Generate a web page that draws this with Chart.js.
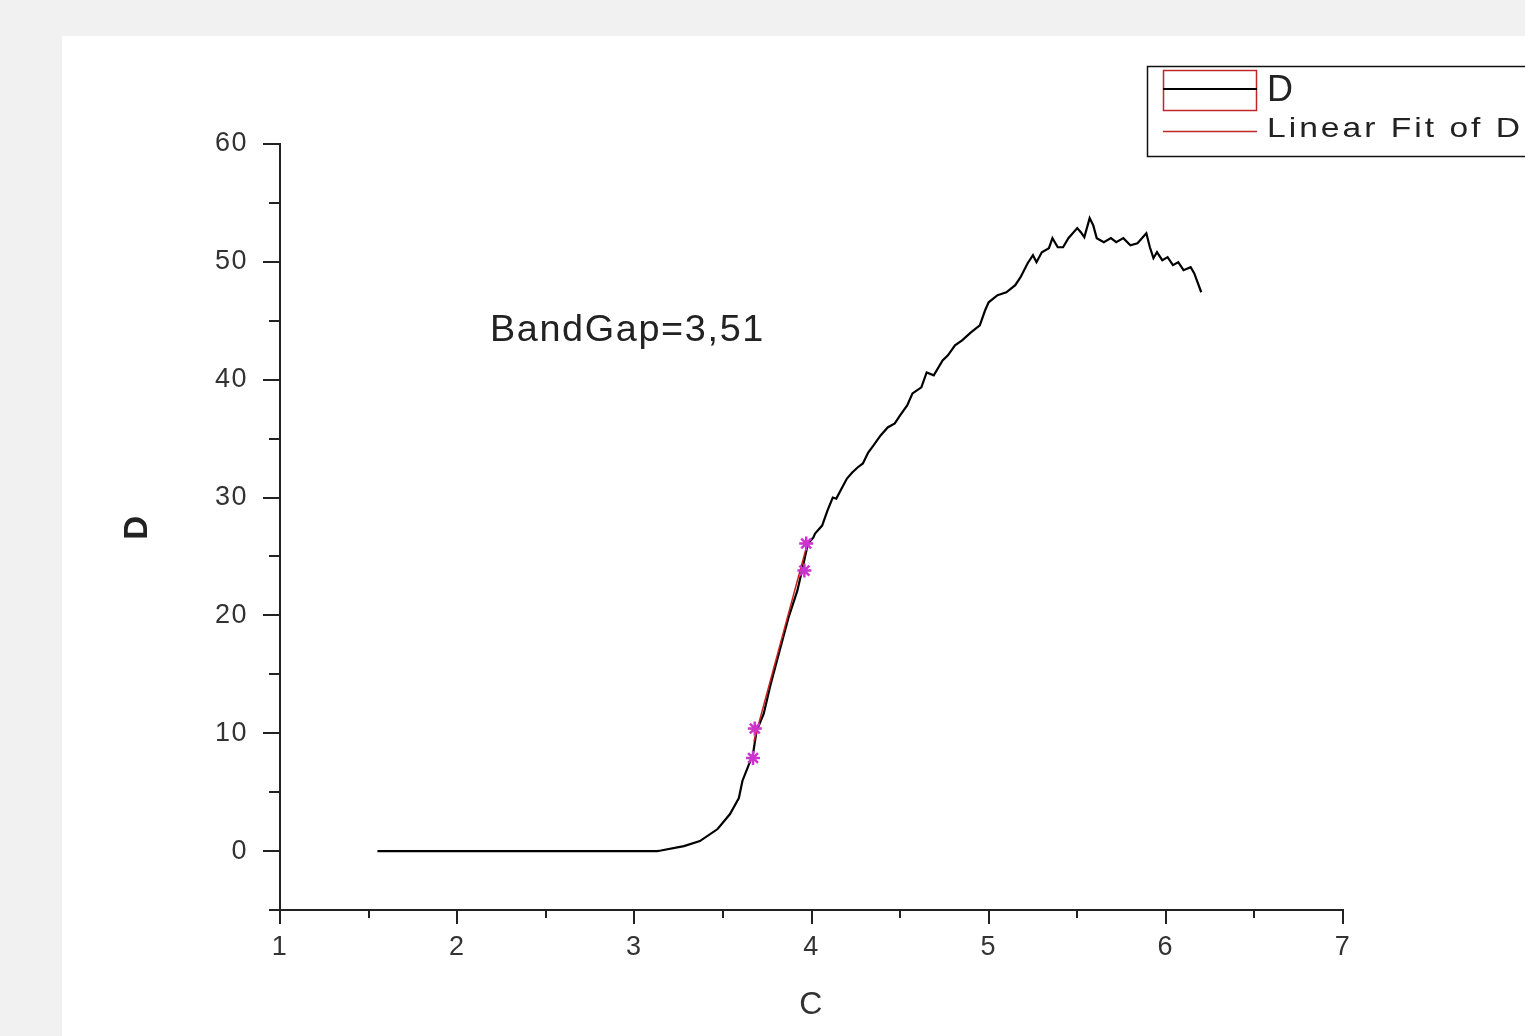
<!DOCTYPE html>
<html>
<head>
<meta charset="utf-8">
<style>
  body { margin: 0; background: #f1f1f1; width: 1525px; height: 1036px; overflow: hidden; }
  #panel { position: absolute; left: 62px; top: 36px; width: 1463px; height: 1000px; background: #fff; }
</style>
</head>
<body>
<div id="panel"><canvas id="chart" width="1463" height="1000"></canvas></div>

<script src="https://cdn.jsdelivr.net/npm/chart.js"></script>
<script>
    // measured curve D vs C
    const curveX = [1.55, 3.13, 3.15, 3.28, 3.37, 3.47, 3.54, 3.59, 3.61, 3.67,
        3.69, 3.73, 3.77, 3.82, 3.87, 3.92, 3.95, 3.98, 4.01, 4.02,
        4.06, 4.09, 4.12, 4.14, 4.17, 4.20, 4.23, 4.26, 4.29, 4.32,
        4.35, 4.39, 4.43, 4.47, 4.50, 4.54, 4.57, 4.62, 4.65, 4.69,
        4.74, 4.77, 4.81, 4.85, 4.90, 4.95, 4.98, 5.00, 5.05, 5.10,
        5.15, 5.18, 5.22, 5.25, 5.27, 5.30, 5.34, 5.36, 5.39, 5.42,
        5.45, 5.50, 5.52, 5.54, 5.57, 5.59, 5.61, 5.65, 5.69, 5.72,
        5.76, 5.80, 5.84, 5.89, 5.91, 5.93, 5.95, 5.98, 6.01, 6.04,
        6.07, 6.10, 6.14, 6.16, 6.20]
    const curveY = [0, 0, 0.05, 0.42, 0.85, 1.87, 3.14, 4.5, 5.95, 8.24,
        10.2, 11.64, 14.19, 17.0, 19.8, 22.1, 24.05, 26.09, 26.6, 26.94,
        27.62, 28.89, 30.0, 29.91, 30.76, 31.61, 32.12, 32.55, 32.89, 33.82,
        34.42, 35.27, 35.95, 36.29, 36.97, 37.82, 38.84, 39.35, 40.62, 40.37,
        41.64, 42.07, 42.92, 43.34, 44.02, 44.62, 45.89, 46.57, 47.17, 47.42,
        48.02, 48.7, 49.88, 50.56, 49.97, 50.82, 51.16, 52.01, 51.24, 51.24,
        52.01, 52.86, 52.52, 52.09, 53.71, 53.11, 52.01, 51.67, 52.01, 51.67,
        52.01, 51.41, 51.58, 52.43, 51.24, 50.31, 50.82, 50.14, 50.40, 49.72,
        49.97, 49.29, 49.55, 49.04, 47.42]

    // linear fit segment and the data reader marks
    const fitX = [3.675, 3.975]
    const fitY = [9.3, 26.0]
    const markX = [3.67, 3.68, 3.96, 3.97]
    const markY = [7.9, 10.4, 23.8, 26.1]

    const xMin = 1, xMax = 7
    const yMin = -5, yMax = 60

    const noteText = 'BandGap=3,51'
    const noteX = 2.185
    const noteY = 43.3

    const FONT = "'Liberation Sans', Arial, sans-serif"

    const toPoints = (xs, ys) => xs.map((v, i) => ({x: v, y: ys[i]}))

    // draw text stretched a bit sideways, then spaced out to width w
    function wideText(ctx, text, x, y, w, sx){
        ctx.save()
        ctx.translate(x, y)
        ctx.scale(sx, 1)
        ctx.letterSpacing = '0px'
        const m = ctx.measureText(text).width
        const ls = Math.max(0, (w / sx - m) / text.length)
        ctx.letterSpacing = ls + 'px'
        ctx.fillText(text, 0, 0)
        ctx.restore()
    }

    const textSpacing = {
        id: 'textSpacing',
        beforeDraw(chart){ chart.ctx.letterSpacing = '1.5px' },
        afterDraw(chart){ chart.ctx.letterSpacing = '0px' }
    }

    // Origin style ticks: long at labelled values, short in between
    const tickMarks = {
        id: 'tickMarks',
        afterDraw(chart){
            const {ctx, chartArea: a, scales: {x, y}} = chart
            ctx.save()
            ctx.strokeStyle = '#222'
            ctx.lineWidth = 2
            ctx.beginPath()
            x.ticks.forEach(t => {
                const px = Math.round(x.getPixelForValue(t.value))
                const len = Number.isInteger(t.value) ? 14 : 8
                ctx.moveTo(px, a.bottom)
                ctx.lineTo(px, a.bottom + len)
            })
            y.ticks.forEach(t => {
                const py = Math.round(y.getPixelForValue(t.value))
                const len = t.value % 10 === 0 ? 17 : 11
                ctx.moveTo(a.left - len, py)
                ctx.lineTo(a.left, py)
            })
            ctx.stroke()

            // annotation
            ctx.fillStyle = '#222'
            ctx.font = '36px ' + FONT
            ctx.textBaseline = 'alphabetic'
            ctx.textAlign = 'left'
            wideText(ctx, noteText, x.getPixelForValue(noteX), y.getPixelForValue(noteY), 275, 1.05)
            ctx.restore()
        }
    }

    // legend box in the top right corner
    const originLegend = {
        id: 'originLegend',
        afterDraw(chart){
            const ctx = chart.ctx
            ctx.save()
            ctx.strokeStyle = '#111'
            ctx.lineWidth = 1.5
            ctx.strokeRect(1085.5, 30.5, 420, 90)

            ctx.strokeStyle = '#c02828'
            ctx.lineWidth = 1.5
            ctx.strokeRect(1101.5, 34.5, 93, 40)
            ctx.strokeStyle = '#000'
            ctx.lineWidth = 2
            ctx.beginPath()
            ctx.moveTo(1101, 53)
            ctx.lineTo(1195, 53)
            ctx.stroke()

            ctx.strokeStyle = '#c02828'
            ctx.lineWidth = 1.5
            ctx.beginPath()
            ctx.moveTo(1101, 95.5)
            ctx.lineTo(1195, 95.5)
            ctx.stroke()

            ctx.fillStyle = '#222'
            ctx.textBaseline = 'alphabetic'
            ctx.textAlign = 'left'
            ctx.font = '36px ' + FONT
            ctx.fillText('D', 1205, 65)
            ctx.font = '28px ' + FONT
            wideText(ctx, 'Linear Fit of D', 1205, 101, 256, 1.2)
            ctx.restore()
        }
    }

    const chart = new Chart(document.getElementById('chart'), {
        type: 'scatter',
        data: {
            datasets: [{
                label: 'D',
                data: toPoints(curveX, curveY),
                showLine: true,
                borderColor: '#000',
                borderWidth: 2.2,
                pointRadius: 0,
                tension: 0,
                order: 3
            }, {
                label: 'Linear Fit of D',
                data: toPoints(fitX, fitY),
                showLine: true,
                borderColor: '#c82020',
                borderWidth: 1.5,
                pointRadius: 0,
                order: 2
            }, {
                label: 'markers',
                data: toPoints(markX, markY),
                showLine: false,
                pointStyle: 'star',
                pointRadius: 7,
                borderColor: '#cc33cc',
                borderWidth: 2.5,
                order: 1
            }]
        },
        options: {
            responsive: false,
            animation: false,
            devicePixelRatio: 1,
            layout: {
                padding: {left: 0, top: 108, right: 182, bottom: 0}
            },
            plugins: {
                legend: { display: false },
                tooltip: { enabled: false }
            },
            scales: {
                x: {
                    type: 'linear',
                    min: xMin,
                    max: xMax,
                    afterFit: s => { s.height = 126 },
                    grid: { display: false, drawTicks: false },
                    border: { display: true, color: '#222', width: 2 },
                    ticks: {
                        stepSize: 0.5,
                        autoSkip: false,
                        maxRotation: 0,
                        padding: 21,
                        color: '#333',
                        font: { family: FONT, size: 27 },
                        callback: v => Number.isInteger(v) ? v : ''
                    },
                    title: {
                        display: true,
                        text: 'C',
                        color: '#333',
                        font: { family: FONT, size: 32 },
                        padding: { top: 0, bottom: 12 }
                    }
                },
                y: {
                    type: 'linear',
                    min: yMin,
                    max: yMax,
                    afterFit: s => { s.width = 218 },
                    grid: { display: false, drawTicks: false },
                    border: { display: true, color: '#222', width: 2 },
                    ticks: {
                        stepSize: 5,
                        autoSkip: false,
                        padding: 32,
                        color: '#333',
                        font: { family: FONT, size: 27 },
                        callback: v => v % 10 === 0 ? v : ''
                    },
                    title: {
                        display: true,
                        text: 'D',
                        color: '#222',
                        font: { family: FONT, size: 33, weight: 'bold' },
                        padding: { top: 56, bottom: 0 }
                    }
                }
            }
        },
        plugins: [textSpacing, tickMarks, originLegend]
    });
</script>
</body>
</html>
